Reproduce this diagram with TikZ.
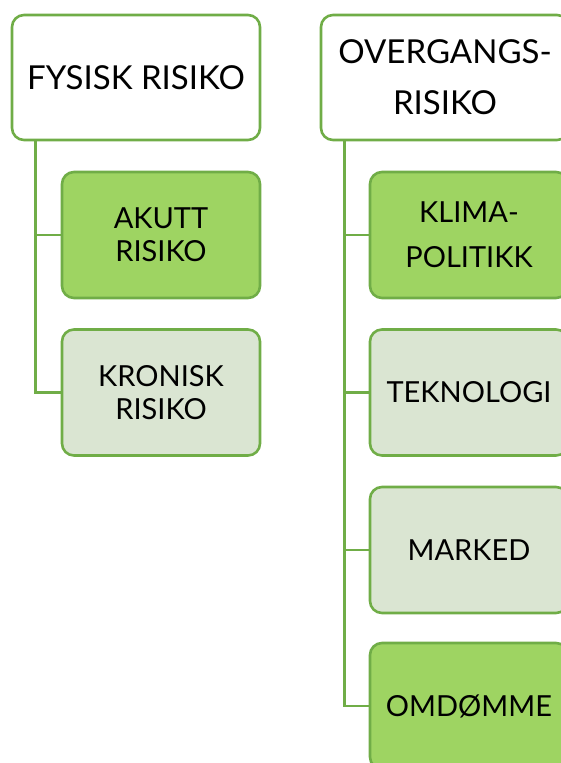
\documentclass[tikz,border=0pt]{standalone}
\usepackage{fontspec}
\setmainfont{Lato}
\usetikzlibrary{positioning}
\definecolor{riskline}{HTML}{70AD47}
\definecolor{riskdark}{HTML}{9ED462}
\definecolor{risklight}{HTML}{DAE5D2}

\begin{document}
\begin{tikzpicture}[x=1pt, y=-1pt,
	box/.style={draw=riskline, line width=2.6pt, rounded corners=12pt, align=center, inner sep=0pt},
	head/.style={box, fill=white, minimum width=248pt, minimum height=125pt, font=\fontsize{33}{36}\selectfont},
	sub/.style={box, minimum width=198pt, minimum height=126pt, font=\fontsize{29}{33}\selectfont},
	dark/.style={sub, fill=riskdark},
	light/.style={sub, fill=risklight},
	link/.style={draw=riskline, line width=2.6pt}]
	\path[use as bounding box, clip] (0,0) rectangle (561,763);
	% two top boxes
	\node[head] (fysisk) at (136,77.5) {FYSISK RISIKO};
	\node[head] (overgang) at (445,77.5) {OVERGANGS-\\[15pt]RISIKO};
	% physical risk
	\node[dark] (akutt) at (161,235) {AKUTT\\RISIKO};
	\node[light] (kronisk) at (161,392.5) {KRONISK\\RISIKO};
	% transition risk
	\node[dark] (klima) at (469,235) {KLIMA-\\[12pt]POLITIKK};
	\node[light] (tekno) at (469,392.5) {TEKNOLOGI};
	\node[light] (marked) at (469,550) {MARKED};
	\node[dark] (omdomme) at (469,706) {OMDØMME};
	\draw[link] ([xshift=25pt]fysisk.south west) |- (akutt.west);
	\draw[link] ([xshift=25pt]fysisk.south west) |- (kronisk.west);
	\foreach \kid in {klima,tekno,marked,omdomme}
		\draw[link] ([xshift=25pt]overgang.south west) |- (\kid.west);
\end{tikzpicture}
\end{document}
